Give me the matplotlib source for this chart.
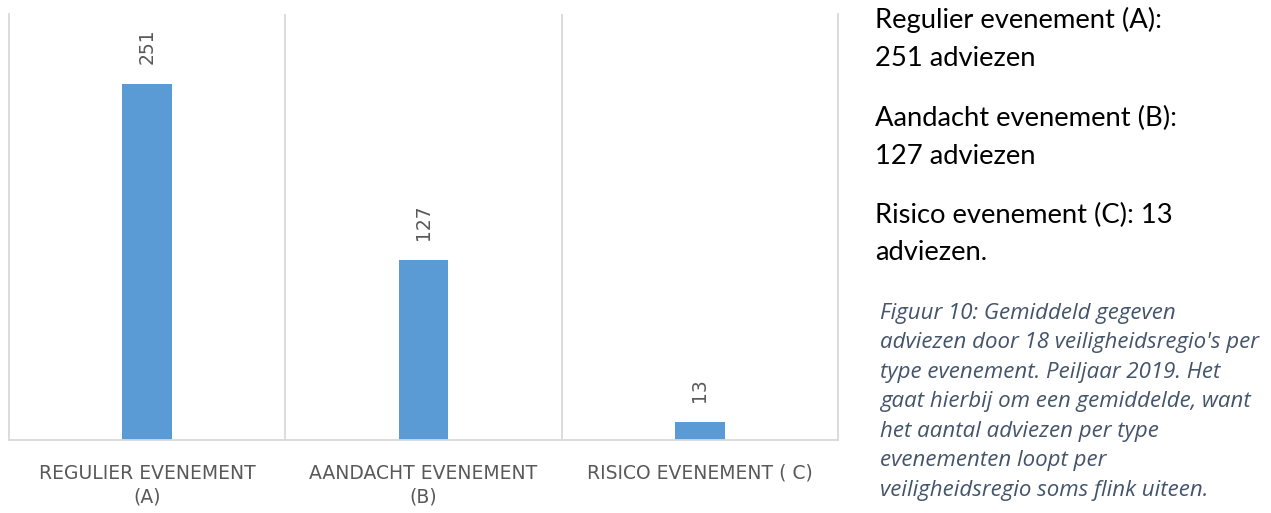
import matplotlib
matplotlib.use("Agg")
import matplotlib.pyplot as plt
import numpy as np

# gemiddeld aantal adviezen per type evenement
categories = ["REGULIER EVENEMENT\n(A)", "AANDACHT EVENEMENT\n(B)", "RISICO EVENEMENT ( C)"]
values = [251, 127, 13]

side_lines = [
    "Regulier evenement (A):", "251 adviezen",
    "Aandacht evenement (B):", "127 adviezen",
    "Risico evenement (C): 13", "adviezen.",
]
caption = ("Figuur 10: Gemiddeld gegeven\n"
           "adviezen door 18 veiligheidsregio's per\n"
           "type evenement. Peiljaar 2019. Het\n"
           "gaat hierbij om een gemiddelde, want\n"
           "het aantal adviezen per type\n"
           "evenementen loopt per\n"
           "veiligheidsregio soms flink uiteen.")

W, H = 1271, 513
fig = plt.figure(figsize=(W / 100, H / 100), dpi=100)
ax = fig.add_axes([9 / W, 1 - 440 / H, (838 - 9) / W, (440 - 14) / H])

grid_col = "#d9d9d9"
txt_col = "#595959"

pos = np.arange(len(categories))
ax.bar(pos, values, width=0.18, color="#5b9bd5", zorder=2)
for p, v in zip(pos, values):
    ax.annotate(str(v), (p, v), xytext=(0, 14), textcoords="offset points",
                rotation=90, ha="center", va="bottom", color=txt_col, fontsize=13.5)

ax.set_xlim(-0.5, len(categories) - 0.5)
ax.set_ylim(0, 300)
for x in pos[:-1] + 0.5:
    ax.axvline(x, color=grid_col, lw=1.3, zorder=1)

for s in ["left", "right", "bottom"]:
    ax.spines[s].set_color(grid_col)
    ax.spines[s].set_linewidth(1.3)
ax.spines["top"].set_visible(False)

ax.set_yticks([])
ax.set_xticks(pos)
ax.set_xticklabels(categories, color=txt_col, fontsize=13.5, linespacing=1.3)
ax.tick_params(axis="x", length=0, pad=17)

# tekst rechts van de grafiek
y_rows = [20, 58, 118, 156, 215, 253]
for t, y in zip(side_lines, y_rows):
    fig.text(875 / W, 1 - y / H, t, fontsize=19.7, family="Lato",
             color="black", va="center", ha="left")

fig.text(880 / W, 1 - 303 / H, caption, fontsize=16, family="Open Sans",
         style="italic", color="#44546a", va="top", ha="left", linespacing=1.53)

fig.savefig("out.png", dpi=100)
